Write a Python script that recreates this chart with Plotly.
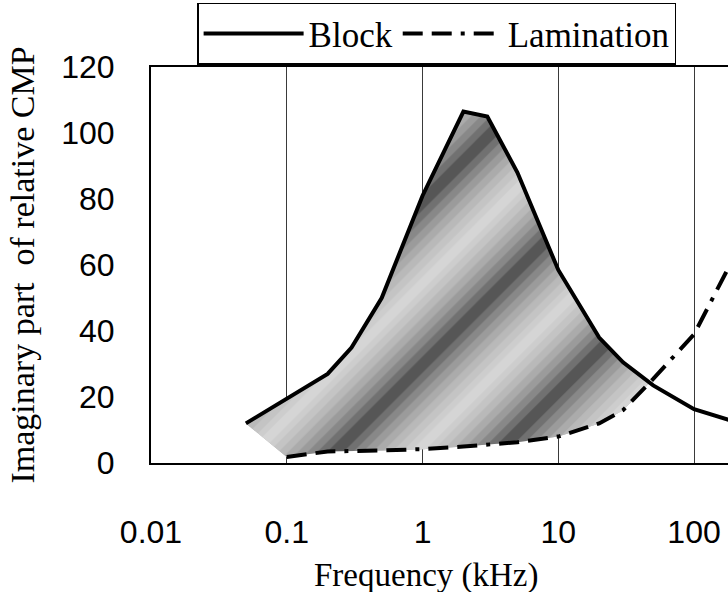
import numpy as np
import plotly.graph_objects as go

# ---- data ----
block_f = [0.05, 0.1, 0.2, 0.3, 0.5, 1, 2, 3, 5, 10, 20, 30, 50, 100, 200]
block_v = [12, 19.5, 27, 35, 50, 81, 106.5, 105, 88, 58.5, 38, 30.5, 23.5, 16.3, 12.5]
lam_f = [0.1, 0.2, 0.5, 1, 2, 5, 10, 20, 30, 50, 100, 200]
lam_v = [1.8, 3.5, 3.8, 4.2, 5, 6.3, 8, 12, 16, 25.5, 39, 63]
tick_vals = [0.01, 0.1, 1, 10, 100]
tick_text = ["0.01", "0.1", "1", "10", "100"]
y_ticks = [0, 20, 40, 60, 80, 100, 120]

# ---- shaded region between the curves (up to where they cross) ----
lb = np.log10(block_f)
ll = np.log10(lam_f)
grid = np.union1d(lb, ll)
grid = grid[(grid >= ll[0])]
bi = np.interp(grid, lb, block_v)
li = np.interp(grid, ll, lam_v)
d = bi - li
k = np.where(np.diff(np.sign(d)) != 0)[0][0]
t = d[k] / (d[k] - d[k + 1])
xc = grid[k] + t * (grid[k + 1] - grid[k])
yc = bi[k] + t * (bi[k + 1] - bi[k])

top_x = [f for f in block_f if np.log10(f) < xc] + [10 ** xc]
top_y = [v for f, v in zip(block_f, block_v) if np.log10(f) < xc] + [yc]
bot = [(f, v) for f, v in zip(lam_f, lam_v) if np.log10(f) < xc][::-1]
poly_x = top_x + [p[0] for p in bot]
poly_y = top_y + [p[1] for p in bot]

fig = go.Figure()

# base dark fill
fig.add_trace(go.Scatter(x=poly_x, y=poly_y, fill="toself", mode="none",
                         fillcolor="rgb(86,86,86)", showlegend=False,
                         hoverinfo="skip"))
# layered diagonal light stripes -> soft diagonal bands
for s in [0.9, 0.78, 0.66, 0.54, 0.42, 0.30, 0.18, 0.08]:
    fig.add_trace(go.Scatter(
        x=poly_x, y=poly_y, fill="toself", mode="none",
        fillcolor="rgba(0,0,0,0)",
        fillpattern=dict(shape="/", size=115, solidity=s,
                         fgcolor="white", fgopacity=0.16,
                         bgcolor="rgba(0,0,0,0)"),
        showlegend=False, hoverinfo="skip"))

fig.add_trace(go.Scatter(x=block_f, y=block_v, mode="lines", name="Block",
                         line=dict(color="black", width=4)))
fig.add_trace(go.Scatter(x=lam_f, y=lam_v, mode="lines", name="Lamination",
                         line=dict(color="black", width=4,
                                   dash="20px,9px,20px,9px,4px,9px")))

serif = "Liberation Serif, Times New Roman, serif"
sans = "Liberation Sans, Arial, sans-serif"

fig.update_layout(
    width=728, height=592,
    margin=dict(l=151, r=0, t=67, b=129),
    plot_bgcolor="white", paper_bgcolor="white",
    showlegend=True,
    legend=dict(orientation="h", x=0.495, xanchor="center", y=1.162,
                yanchor="top", bgcolor="white", bordercolor="black",
                borderwidth=1.5, font=dict(family=serif, size=35, color="black"),
                itemwidth=100, traceorder="normal"),
    xaxis=dict(type="log", range=[-2, 2.25], tickvals=tick_vals,
               ticktext=tick_text, showgrid=True, gridcolor="#3a3a3a",
               gridwidth=1, showline=True, linecolor="black", linewidth=2,
               mirror=True, ticks="", zeroline=False,
               ticklabelstandoff=40,
               tickfont=dict(family=sans, size=32, color="black")),
    yaxis=dict(range=[0, 120], tickvals=y_ticks, showgrid=False,
               showline=True, linecolor="black", linewidth=2, mirror=False,
               ticks="", zeroline=False, ticklabelstandoff=28,
               tickfont=dict(family=sans, size=32, color="black"),
               title=dict(text="Imaginary part  of relative CMP", standoff=16,
                          font=dict(family=serif, size=34, color="black"))),
    annotations=[dict(text="Frequency (kHz)", xref="paper", yref="paper",
                      x=0.478, y=-0.283, xanchor="center", yanchor="middle",
                      showarrow=False,
                      font=dict(family=serif, size=33, color="black"))],
)

fig.write_html("out.html")
